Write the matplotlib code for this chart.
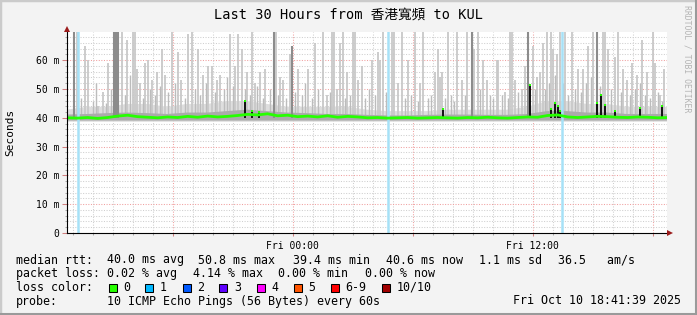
import numpy as np
import matplotlib
matplotlib.use("Agg")
import matplotlib.pyplot as plt
from matplotlib.patches import Rectangle
from matplotlib.ticker import MultipleLocator, FuncFormatter
import matplotlib.transforms as mtransforms

W, H = 697, 315
MONO = "DejaVu Sans Mono"

# time axis: hours relative to Fri 00:00, window = last 30 h up to Fri 18:41:39
t_start, t_end = -11.306, 18.694

# light smoke spikes (hour, top in ms)
light_hours = [-10.78, -10.38, -10.23, -9.73, -9.48, -9.23, -8.53, -8.28, -7.98, -7.88,
               -7.78, -7.63, -7.38, -7.23, -7.03, -6.78, -6.53, -6.38, -6.03, -5.73,
               -5.58, -5.23, -5.03, -4.73, -4.48, -4.23, -4.03, -3.78, -3.63, -3.13,
               -2.88, -2.73, -2.53, -2.28, -2.03, -1.88, -1.63, -1.38, -0.83, -0.63,
               -0.48, -0.13, 0.28, 0.78, 1.13, 1.53, 1.73, 1.98, 2.08, 2.23,
               2.38, 2.53, 2.73, 3.03, 3.13, 3.28, 3.48, 3.98, 4.28, 4.38,
               4.53, 4.98, 5.08, 5.28, 5.48, 5.78, 6.13, 6.38, 6.53, 7.13,
               7.28, 7.38, 7.48, 7.78, 8.23, 8.48, 8.73, 9.08, 9.28, 9.53,
               9.73, 10.23, 10.28, 10.63, 10.88, 10.98, 11.13, 11.48, 11.63, 12.03,
               12.23, 12.38, 12.53, 12.73, 12.93, 13.03, 13.23, 13.38, 13.63, 13.98,
               14.28, 14.53, 14.78, 15.03, 15.53, 15.63, 15.78, 16.13, 16.28, 16.53,
               16.73, 16.98, 17.23, 17.48, 17.73, 18.03, 18.13, 18.38, 18.58]
light_tops = [70, 65, 60, 44, 49, 59, 70, 67, 70, 70,
              57, 52, 59, 60, 53, 56, 64, 55, 70, 63,
              53, 69, 70, 64, 55, 58, 58, 53, 55, 69,
              58, 69, 64, 56, 70, 52, 56, 57, 70, 54,
              53, 62, 57, 57, 66, 70, 48, 70, 70, 50,
              66, 70, 56, 70, 70, 53, 58, 60, 63, 60,
              70, 70, 70, 52, 70, 60, 70, 52, 70, 56,
              64, 54, 56, 70, 70, 53, 70, 64, 70, 60,
              53, 60, 60, 49, 70, 70, 53, 50, 58, 65,
              54, 56, 66, 70, 70, 64, 62, 70, 70, 70,
              57, 57, 65, 70, 70, 70, 64, 61, 70, 57,
              53, 59, 55, 67, 56, 70, 59, 48, 57]

# shorter, denser smoke in between
short_hours = [-10.58, -9.98, -9.83, -9.33, -9.08, -8.38, -8.13, -7.48, -7.13, -6.88,
               -6.63, -6.23, -5.88, -5.38, -4.88, -4.63, -4.33, -3.88, -3.43, -3.28,
               -2.98, -2.38, -2.13, -1.78, -1.48, -1.13, -0.73, -0.33, 0.13, 0.48,
               0.63, 0.98, 1.28, 1.88, 2.63, 2.88, 3.63, 3.83, 4.13, 4.68,
               5.63, 5.93, 6.28, 6.78, 6.93, 7.63, 7.93, 8.08, 8.63, 9.38,
               9.88, 10.03, 10.48, 10.78, 11.28, 12.13, 12.63, 12.83, 13.13, 13.53,
               13.78, 14.13, 14.43, 14.68, 14.93, 15.38, 15.93, 16.43, 16.88, 17.13,
               17.38, 17.63, 17.88, 18.28, 18.48]
short_tops = [47, 46, 52, 45, 50, 48, 55, 47, 50, 48,
              51, 49, 52, 47, 50, 48, 52, 49, 50, 54,
              51, 50, 48, 51, 47, 50, 48, 47, 49, 48,
              52, 47, 50, 49, 47, 48, 47, 50, 48, 49,
              47, 48, 46, 47, 48, 47, 48, 46, 48, 50,
              48, 47, 48, 47, 49, 50, 50, 52, 55, 52,
              48, 50, 49, 52, 54, 51, 50, 49, 48, 50,
              52, 48, 47, 49, 46]

# darker smoke columns
dark_hours = [-10.93, -8.93, -8.83, -8.73, -0.93, -0.03, 8.98, 11.78, 15.23]
dark_tops = [70, 70, 70, 70, 70, 65, 70, 70, 70]

# median bursts (dark bars with the median on top)
burst_hours = [-2.38, -2.03, -1.68, 7.53, 11.88, 12.93, 13.13, 13.28, 13.38,
               15.23, 15.43, 15.63, 16.13, 17.38, 18.48]
burst_tops = [46, 42.5, 42, 43, 51.5, 43, 45, 44, 42.5,
              45, 48, 44.5, 42.5, 43.5, 44]

# median rtt (ms), every 30 min from -11.25 h
median_ms = [40.0, 39.9, 40.1, 39.8, 40.1, 40.6, 40.9, 40.4, 40.2, 40.0,
             40.3, 40.1, 40.5, 40.2, 40.6, 40.3, 40.5, 40.8, 41.2, 41.0,
             41.4, 40.7, 40.9, 40.4, 40.6, 40.3, 40.7, 40.2, 40.5, 40.3,
             40.0, 40.1, 39.9, 40.0, 40.1, 39.9, 40.0, 40.1, 40.0, 39.9,
             40.1, 40.0, 40.2, 40.0, 39.9, 40.1, 40.3, 40.2, 40.8, 41.0,
             40.3, 40.1, 40.3, 40.5, 40.4, 40.2, 40.1, 40.3, 40.2, 40.0, 40.1]

# smoke cloud around the median, hourly from window start
haze_hi = [43, 44, 44, 45, 45, 44, 45, 45, 46, 46, 45, 44, 44, 44, 44, 43,
           42.5, 42.5, 42.5, 43, 43, 43, 43, 44, 46, 46, 45, 45, 44, 44, 44]
haze_mid = [41.3, 41.5, 41.8, 42, 41.8, 41.5, 42, 42, 42.5, 43, 42.5, 42, 41.8, 41.5, 41.5, 41.2,
            41, 41, 41.2, 41.3, 41.3, 41.2, 41.2, 41.5, 42.5, 42.5, 42, 42, 41.5, 41.5, 41.5]
haze_low = 38.8

# hours with 1/10 packet loss
loss_hours = [-10.73, 4.78, 13.48]

loss_labels = ["0", "1", "2", "3", "4", "5", "6-9", "10/10"]
loss_colors = ["#26ff00", "#00b8ff", "#0059ff", "#5e00ff", "#ff00ff", "#ff5500", "#ff0000", "#a10000"]

fig = plt.figure(figsize=(W / 100, H / 100), dpi=100, facecolor="#f3f3f3")


def fx(x):
    return x / W


def fy(y):
    return (H - y) / H


ax = fig.add_axes([fx(66.5), fy(233), 600 / W, 201 / H])
ax.set_facecolor("white")
ax.set_xlim(t_start, t_end)
ax.set_ylim(0, 69.8)

# smoke
haze_t = t_start + np.arange(len(haze_hi))
ax.fill_between(haze_t, haze_low, haze_hi, color="#dedede", lw=0, zorder=2)
ax.vlines(light_hours, 40, light_tops, color="#c8c8c8", lw=1.3, zorder=2.2)
ax.vlines(short_hours, 40, short_tops, color="#bcbcbc", lw=1.0, zorder=2.25)
ax.fill_between(haze_t, haze_low + 0.4, haze_mid, color="#ababab", lw=0, zorder=2.27)
ax.vlines(dark_hours, 40, dark_tops, color="#8c8c8c", lw=1.5, zorder=2.3)
ax.vlines(burst_hours, 40, burst_tops, color="#111111", lw=1.4, zorder=2.5)

for h in loss_hours:
    ax.axvline(h, color="#a6e1f7", lw=1.8, zorder=2.6)

med_t = -11.25 + 0.5 * np.arange(len(median_ms))
ax.plot(med_t, median_ms, color="#26ff00", lw=2.0, zorder=3, solid_capstyle="butt")
ax.plot(burst_hours, burst_tops, ls="none", marker="s", ms=2, mew=0,
        color="#26ff00", zorder=3.1)

# grid and ticks
ax.xaxis.set_major_locator(MultipleLocator(6))
ax.xaxis.set_minor_locator(MultipleLocator(1))
ax.yaxis.set_major_locator(MultipleLocator(10))
ax.yaxis.set_minor_locator(MultipleLocator(2))
ax.grid(which="minor", color="#cfcfcf", lw=0.75, ls=(0, (1, 1.5)), zorder=1)
ax.grid(which="major", color="#f0a0a0", lw=0.75, ls=(0, (1, 1.5)), zorder=1.1)
ax.set_axisbelow(True)

xlabels = {0: "Fri 00:00", 12: "Fri 12:00"}
ax.xaxis.set_major_formatter(FuncFormatter(lambda v, p: xlabels.get(int(round(v)), "")))
ax.yaxis.set_major_formatter(FuncFormatter(lambda v, p: f"{int(round(v))} m" if v > 0 else "0"))
ax.tick_params(which="both", labelsize=7, colors="#000000")
ax.tick_params(axis="y", which="major", length=3.5, width=0.75, pad=1.8, color="#d08080")
ax.tick_params(axis="y", which="minor", length=1.5, width=0.75, color="#aaaaaa")
ax.tick_params(axis="x", which="major", length=2.5, width=0.75, pad=3, color="#d08080")
ax.tick_params(axis="x", which="minor", length=1.5, width=0.75, color="#aaaaaa")
for lab in ax.get_xticklabels() + ax.get_yticklabels():
    lab.set_family(MONO)
ax.yaxis.get_major_ticks()[0].set_pad(10.5)

for s in ("top", "right"):
    ax.spines[s].set_visible(False)
for s in ("left", "bottom"):
    ax.spines[s].set_color("black")
    ax.spines[s].set_linewidth(0.8)
    ax.spines[s].set_zorder(4)

# axis arrows
arrow_kw = dict(ls="none", color="#9b1b1b", clip_on=False, zorder=5, ms=4, mew=0)
ax.plot([1.0], [0.0], marker=">", transform=mtransforms.offset_copy(ax.transAxes, fig, x=3, y=0, units="dots"), **arrow_kw)
ax.plot([0.0], [1.0], marker="^", transform=mtransforms.offset_copy(ax.transAxes, fig, x=0, y=3, units="dots"), **arrow_kw)

# texts
fig.text(fx(348), fy(19), "Last 30 Hours from 香港寬頻 to KUL", ha="center", va="baseline",
         fontsize=9.8, family=[MONO, "Noto Sans CJK TC"])
fig.text(fx(10), fy(132), "Seconds", rotation=90, ha="center", va="center", fontsize=8, family=MONO)
fig.text(fx(687.5), fy(59), "RRDTOOL / TOBI OETIKER", rotation=270, ha="center", va="center",
         fontsize=5.9, family=MONO, color="#b4b4b4")

leg = dict(fontsize=8.4, family=MONO, va="baseline", ha="left")
rows = [
    (263.5, [(16, "median rtt:"), (107, "40.0 ms avg"), (198, "50.8 ms max"), (293, "39.4 ms min"),
             (386, "40.6 ms now"), (479, "1.1 ms sd"), (558, "36.5   am/s")]),
    (277, [(16, "packet loss:"), (107, "0.02 % avg"), (193, "4.14 % max"), (278, "0.00 % min"),
           (365, "0.00 % now")]),
    (290.7, [(16, "loss color:")]),
    (304.5, [(16, "probe:"), (107, "10 ICMP Echo Pings (56 Bytes) every 60s"),
             (513, "Fri Oct 10 18:41:39 2025")]),
]
for y, items in rows:
    for x, s in items:
        fig.text(fx(x), fy(y), s, **leg)

box_x = [108.7, 145.3, 182.7, 219.3, 256.7, 294, 330.7, 381.7]
for bx, lab, c in zip(box_x, loss_labels, loss_colors):
    fig.patches.append(Rectangle((fx(bx), fy(291.5)), 8 / W, 8 / H, transform=fig.transFigure,
                                 facecolor=c, edgecolor="black", lw=0.75))
    fig.text(fx(bx + 14.5), fy(290.7), lab, **leg)

# outer frame (light top/left, darker bottom/right)
fig.patches.append(Rectangle((0, 0), 1, 1, transform=fig.transFigure, fill=False,
                             edgecolor="#cbcbcb", lw=2.5))
fig.lines.append(plt.Line2D([0, 1], [0.003, 0.003], transform=fig.transFigure, color="#9a9a9a", lw=2.2))
fig.lines.append(plt.Line2D([0.998, 0.998], [0, 1], transform=fig.transFigure, color="#9a9a9a", lw=1.5))

fig.savefig("out.png", dpi=100, facecolor=fig.get_facecolor())
